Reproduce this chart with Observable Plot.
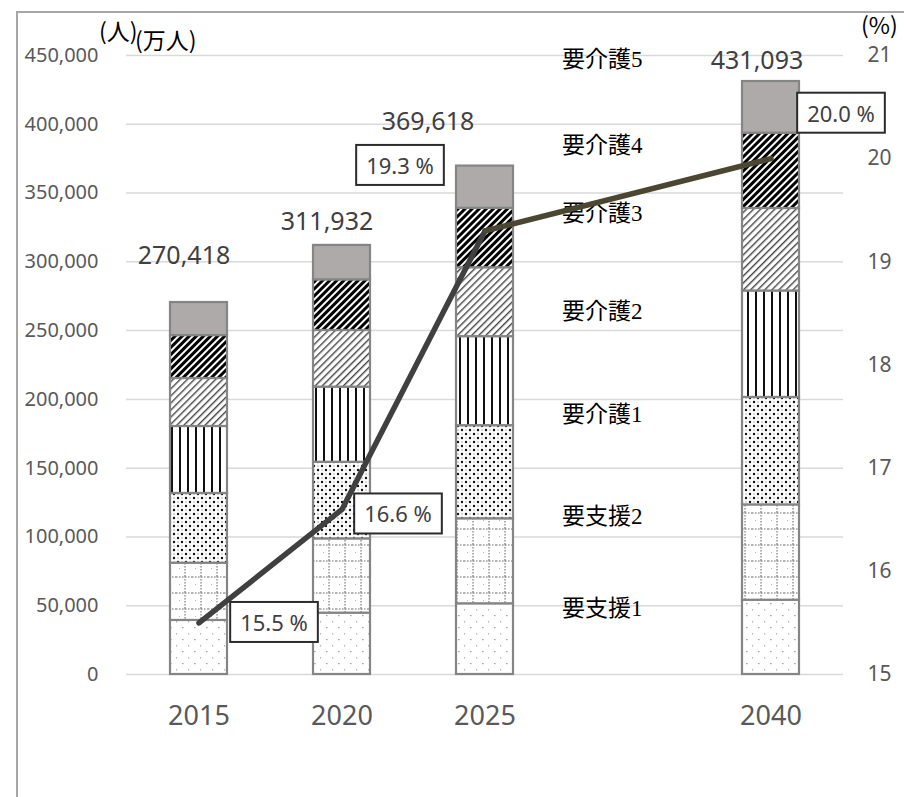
<!DOCTYPE html>
<html><head><meta charset="utf-8">
<script src="https://cdn.jsdelivr.net/npm/d3@7"></script>
<script src="https://cdn.jsdelivr.net/npm/@observablehq/plot@0.6"></script>
<style>
body{margin:0;background:#fff;}
#wrap{position:relative;width:904px;height:797px;overflow:hidden;background:#fff;}
#chart{position:absolute;left:0;top:0;}
#frame{position:absolute;left:16px;top:11px;width:920px;height:820px;border-left:2px solid #a6a6a6;border-top:2px solid #a6a6a6;pointer-events:none;}
.unit{position:absolute;font-family:"Noto Sans CJK JP","Noto Sans",sans-serif;color:#000;font-size:23px;line-height:1;white-space:nowrap;}
</style></head><body>
<div id="wrap">
<div id="chart"></div>
<div id="frame"></div>
<div class="unit" style="left:99px;top:19px">(人)</div>
<div class="unit" style="left:135px;top:28px">(万人)</div>
<div class="unit" style="left:861px;top:13px">(%)</div>
</div>
<script>
// ---- data ----
const years = ["2015", "2020", "2025", "2040"];
const xSlots = ["2015", "2020", "2025", "gap", "2040"];
const categories = ["要支援1", "要支援2", "要介護1", "要介護2", "要介護3", "要介護4", "要介護5"];
const shien1 = [39300, 44600, 51400, 54000];
const shien2 = [41600, 54000, 61800, 69300];
const kaigo1 = [50700, 55700, 67700, 78100];
const kaigo2 = [48700, 54600, 64700, 77400];
const kaigo3 = [34900, 41200, 50100, 60000];
const kaigo4 = [31200, 36800, 43200, 54700];
const kaigo5 = [24018, 25032, 30718, 37593];
const totals = [270418, 311932, 369618, 431093];
const ratePct = [15.5, 16.6, 19.3, 20.0];
const leftTicks = [0, 50000, 100000, 150000, 200000, 250000, 300000, 350000, 400000, 450000];
const rightTicks = [15, 16, 17, 18, 19, 20, 21];

// ---- tables built from arrays ----
const seriesByCat = [shien1, shien2, kaigo1, kaigo2, kaigo3, kaigo4, kaigo5];
const rows = years.flatMap((yr, i) => categories.map((c, j) => ({year: yr, cat: c, value: seriesByCat[j][i]})));
const totalRows = years.map((yr, i) => ({year: yr, total: totals[i]}));
const rateRows = years.map((yr, i) => ({year: yr, pct: ratePct[i]}));

const toLeft = d3.scaleLinear([15, 21], [0, 450000]);
const patternIds = categories.map((c, i) => `url(#pat${i})`);

// label placement (in the chart's own units / pixel offsets)
const legendAt = {"要介護5": 447000, "要介護4": 384600, "要介護3": 335100, "要介護2": 263900, "要介護1": 189000, "要支援2": 114900, "要支援1": 48000};
const totalDy = [-47, -23, -44, -21];
const totalDx = [-15, -15, -57, -14];
const pctOff = [[75, 1], [56, 6], [-85, -64], [70, -44]];

const font = '"Noto Sans", "Noto Sans CJK JP", sans-serif';
const serifCJK = '"Liberation Serif", "Noto Sans CJK JP", serif';

const marks = [
  Plot.gridY(leftTicks, {stroke: "#d9d9d9", strokeOpacity: 1, strokeWidth: 1.5}),
  Plot.axisY(leftTicks, {tickSize: 0, tickPadding: 28, tickFormat: d3.format(","), fontSize: 20, color: "#595959", label: null}),
  Plot.axisY(rightTicks, {y: toLeft, anchor: "right", tickSize: 0, tickPadding: 24, tickFormat: d => String(d), fontSize: 21, color: "#595959", label: null, textAnchor: "start"}),
  Plot.axisX(years, {tickSize: 0, tickPadding: 31, fontSize: 27, color: "#595959", label: null}),
  Plot.barY(rows, {x: "year", y: "value", fill: "cat", stroke: "#858585", strokeWidth: 2.2}),
  Plot.text(categories, {x: () => "gap", y: c => legendAt[c], text: d => d, textAnchor: "start", dx: -66, fontSize: 23, fontFamily: serifCJK, fill: "#000"})
];
totalRows.forEach((r, i) => {
  marks.push(Plot.text([r], {x: "year", y: "total", text: d => d3.format(",")(d.total), dy: totalDy[i], dx: totalDx[i], fontSize: 25, fill: "#404040"}));
});
marks.push(Plot.line(rateRows.slice(0, 3), {x: "year", y: d => toLeft(d.pct), stroke: "#404040", strokeWidth: 5.5, strokeLinecap: "round", strokeLinejoin: "round"}));
marks.push(Plot.line(rateRows.slice(2), {x: "year", y: d => toLeft(d.pct), stroke: "#4b4631", strokeWidth: 5.5, strokeLinecap: "round", strokeLinejoin: "round"}));
rateRows.forEach((r, i) => {
  marks.push(Plot.text([r], {x: "year", y: d => toLeft(d.pct), text: d => d.pct.toFixed(1) + " %", dx: pctOff[i][0], dy: pctOff[i][1], fontSize: 22, fill: "#404040", className: "pctbox"}));
});

const svg = Plot.plot({
  width: 904, height: 797,
  marginLeft: 126, marginRight: 61, marginTop: 55, marginBottom: 123,
  style: {fontFamily: font, background: "transparent", overflow: "visible"},
  x: {domain: xSlots, paddingInner: 0.6, paddingOuter: 0.3, axis: null},
  y: {domain: [0, 450000], axis: null},
  color: {domain: categories, range: patternIds},
  marks
});
document.getElementById("chart").appendChild(svg);

// ---- fill patterns ----
const defs = d3.select(svg).insert("defs", ":first-child");
function pat(id, w, h, rot) {
  const p = defs.append("pattern").attr("id", id).attr("patternUnits", "userSpaceOnUse").attr("width", w).attr("height", h);
  if (rot) p.attr("patternTransform", `rotate(${rot})`);
  p.append("rect").attr("width", w).attr("height", h).attr("fill", "#fff");
  return p;
}
// 要支援1: sparse light dots
let p = pat("pat0", 12, 12);
p.append("rect").attr("x", 2).attr("y", 3).attr("width", 1.6).attr("height", 1.2).attr("fill", "#a8a8a8");
p.append("rect").attr("x", 8).attr("y", 9).attr("width", 1.2).attr("height", 1.6).attr("fill", "#b8b8b8");
// 要支援2: dotted grid
p = pat("pat1", 16, 16);
p.append("line").attr("x1", 0).attr("x2", 16).attr("y1", 1).attr("y2", 1).attr("stroke", "#6a6a6a").attr("stroke-width", 1.2).attr("stroke-dasharray", "1.5 1.5");
p.append("line").attr("x1", 9).attr("x2", 9).attr("y1", 0).attr("y2", 16).attr("stroke", "#7a7a7a").attr("stroke-width", 1.2).attr("stroke-dasharray", "1.5 1.5");
p.append("rect").attr("x", 3).attr("y", 8).attr("width", 1).attr("height", 1).attr("fill", "#bbb");
// 要介護1: dots
p = pat("pat2", 8, 8);
p.append("circle").attr("cx", 2).attr("cy", 2).attr("r", 1.2).attr("fill", "#111");
p.append("circle").attr("cx", 6).attr("cy", 6).attr("r", 1.2).attr("fill", "#111");
p.append("circle").attr("cx", 6).attr("cy", 2).attr("r", 0.7).attr("fill", "#999");
p.append("circle").attr("cx", 2).attr("cy", 6).attr("r", 0.7).attr("fill", "#999");
// 要介護2: vertical stripes
p = pat("pat3", 8, 8);
p.append("rect").attr("x", 3).attr("y", 0).attr("width", 2).attr("height", 8).attr("fill", "#111");
// 要介護3: light diagonal
p = pat("pat4", 5, 5, 45);
p.append("rect").attr("x", 0).attr("y", 0).attr("width", 1.4).attr("height", 5).attr("fill", "#444");
// 要介護4: dark diagonal
p = pat("pat5", 5, 5, 45);
p.append("rect").attr("x", 0).attr("y", 0).attr("width", 3).attr("height", 5).attr("fill", "#000");
// 要介護5: solid gray
p = pat("pat6", 4, 4);
p.select("rect").attr("fill", "#aeaaaa");

// ---- boxes around percentage labels ----
svg.querySelectorAll("g.pctbox text").forEach(t => {
  const b = t.getBBox();
  const r = document.createElementNS("http://www.w3.org/2000/svg", "rect");
  r.setAttribute("x", b.x - 10);
  r.setAttribute("y", b.y + b.height / 2 - 20);
  r.setAttribute("width", b.width + 20);
  r.setAttribute("height", 40);
  r.setAttribute("fill", "#fff");
  r.setAttribute("stroke", "#2b2b2b");
  r.setAttribute("stroke-width", 2);
  const tr = t.getAttribute("transform");
  if (tr) r.setAttribute("transform", tr);
  t.parentNode.insertBefore(r, t);
});
</script>
</body></html>
